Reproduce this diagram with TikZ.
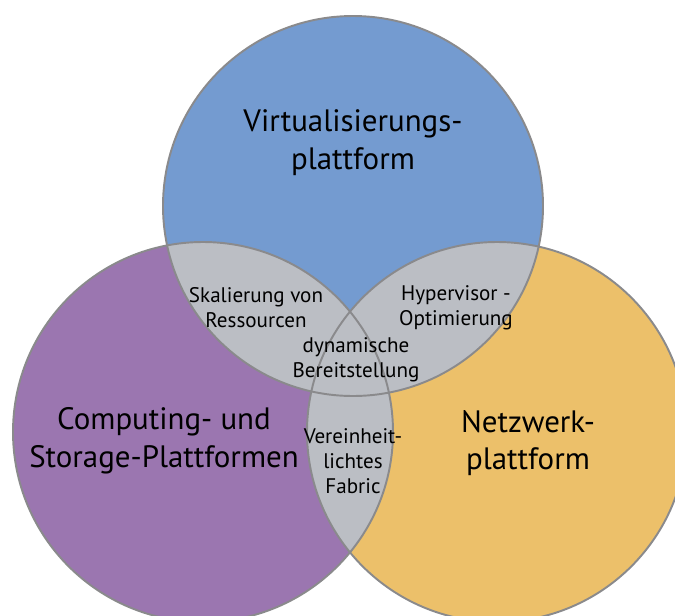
\documentclass[tikz,border=0pt]{standalone}
\usepackage{fontspec}
\setmainfont{PT Sans}
\usepackage{tikz}

\definecolor{virtblue}{RGB}{116,155,208}
\definecolor{comppurple}{RGB}{155,118,176}
\definecolor{netzorange}{RGB}{236,192,106}
\definecolor{lensgray}{RGB}{187,190,196}
\definecolor{rimgray}{RGB}{138,138,140}

% the three platform circles
\def\virtcircle{(7.06,-4.12) circle (3.8)}
\def\compcircle{(4.06,-8.64) circle (3.8)}
\def\netzcircle{(9.94,-8.64) circle (3.8)}

\begin{document}
\begin{tikzpicture}[
  rim/.style={draw=rimgray, line width=1.1pt},
  lens/.style={fill=lensgray},
  big/.style={align=center, font=\fontsize{17.6}{21.5}\selectfont},
  small/.style={align=center, font=\fontsize{12}{14.2}\selectfont}
]
  \useasboundingbox (0,0) rectangle (13.5,-12.32);
  \clip (0,0) rectangle (13.5,-12.32);

  \fill[virtblue]   \virtcircle;
  \fill[comppurple] \compcircle;
  \fill[netzorange] \netzcircle;

  % overlaps
  \begin{scope}
    \clip \virtcircle;
    \fill[lens] \compcircle;
    \fill[lens] \netzcircle;
  \end{scope}
  \begin{scope}
    \clip \compcircle;
    \fill[lens] \netzcircle;
  \end{scope}

  \draw[rim] \virtcircle;
  \draw[rim] \compcircle;
  \draw[rim] \netzcircle;

  \node[big] (virt) at (7.06,-2.86) {Virtualisierungs-\\plattform};
  \node[big] (comp) at (3.28,-8.82) {Computing- und\\Storage-Plattformen};
  \node[big] (netz) at (10.56,-8.86) {Netzwerk-\\plattform};

  \node[small] (skal) at (5.12,-6.16) {Skalierung von\\Ressourcen};
  \node[small] (hyp)  at (9.12,-6.16) {Hypervisor -\\Optimierung};
  \node[small] (dyn)  at (7.12,-7.2)  {dynamische\\Bereitstellung};
  \node[small] (fab)  at (7.06,-9.22) {Vereinheit-\\lichtes\\Fabric};
\end{tikzpicture}
\end{document}
